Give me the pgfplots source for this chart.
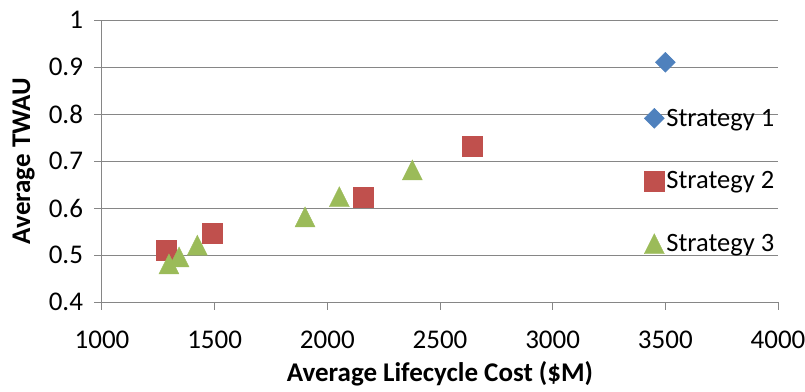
\documentclass[border=0pt]{standalone}
\usepackage{fontspec}
\setmainfont{Carlito}
\usepackage{pgfplots}
\pgfplotsset{compat=1.18}

\definecolor{sblue}{HTML}{4F81BD}
\definecolor{sred}{HTML}{C0504D}
\definecolor{sgreen}{HTML}{9BBB59}
\definecolor{gridgray}{HTML}{868686}

% triangle centred on its bounding box, as wide as it is tall
\pgfdeclareplotmark{boxtriangle}{%
  \pgfpathmoveto{\pgfqpoint{0pt}{\pgfplotmarksize}}%
  \pgfpathlineto{\pgfqpoint{\pgfplotmarksize}{-\pgfplotmarksize}}%
  \pgfpathlineto{\pgfqpoint{-\pgfplotmarksize}{-\pgfplotmarksize}}%
  \pgfpathclose
  \pgfusepathqfillstroke}

\begin{document}
\begin{tikzpicture}
\path[use as bounding box] (-102pt,-89pt) rectangle (703pt,302pt);
\begin{axis}[
  scale only axis,
  width=676pt, height=282pt,
  xmin=1000, xmax=4000,
  ymin=0.4, ymax=1,
  xtick={1000,1500,...,4000},
  ytick={0.4,0.5,...,1.0},
  axis x line*=bottom,
  axis y line*=left,
  axis line style={gridgray, line width=1pt},
  tick align=outside,
  major tick length=7.5pt,
  tick style={gridgray, line width=1pt},
  ymajorgrids,
  grid style={gridgray, line width=1pt},
  /pgf/number format/assume math mode=true,
  /pgf/number format/1000 sep={},
  ticklabel style={font=\fontsize{27}{31}\selectfont},
  xticklabel style={yshift=-18pt},
  yticklabel style={xshift=-8pt},
  label style={font=\fontsize{27}{31}\selectfont\bfseries},
  xlabel={Average Lifecycle Cost (\$M)},
  ylabel={Average TWAU},
  xlabel style={at={(axis description cs:0.5,-0.2825)}, anchor=base},
  ylabel style={at={(axis description cs:-0.1065,0.5)}, anchor=base},
  legend cell align=left,
  legend style={at={(axis description cs:0.802,0.429)}, anchor=west,
    draw=none, fill=none, inner sep=0pt, row sep=40pt,
    font=\fontsize{26.5}{30}\selectfont,
    nodes={inner sep=2pt}},
  legend image code/.code={\draw[#1] plot coordinates {(0pt,0pt)};},
]
\addplot[only marks, mark=square*, mark size=7.07pt,
  mark options={rotate=45, fill=sblue, draw=sblue}]
  coordinates {(3500,0.91)};
\addlegendentry{Strategy 1}

\addplot[only marks, mark=square*, mark size=10pt,
  mark options={fill=sred, draw=sred}]
  coordinates {(1283,0.511) (1491,0.546) (2157,0.622) (2642,0.732)};
\addlegendentry{Strategy 2}

\addplot[only marks, mark=boxtriangle, mark size=10pt,
  mark options={fill=sgreen, draw=sgreen}]
  coordinates {(1297,0.481) (1342,0.496) (1423,0.521) (1901,0.581) (2053,0.624) (2377,0.681)};
\addlegendentry{Strategy 3}
\end{axis}
\end{tikzpicture}
\end{document}
